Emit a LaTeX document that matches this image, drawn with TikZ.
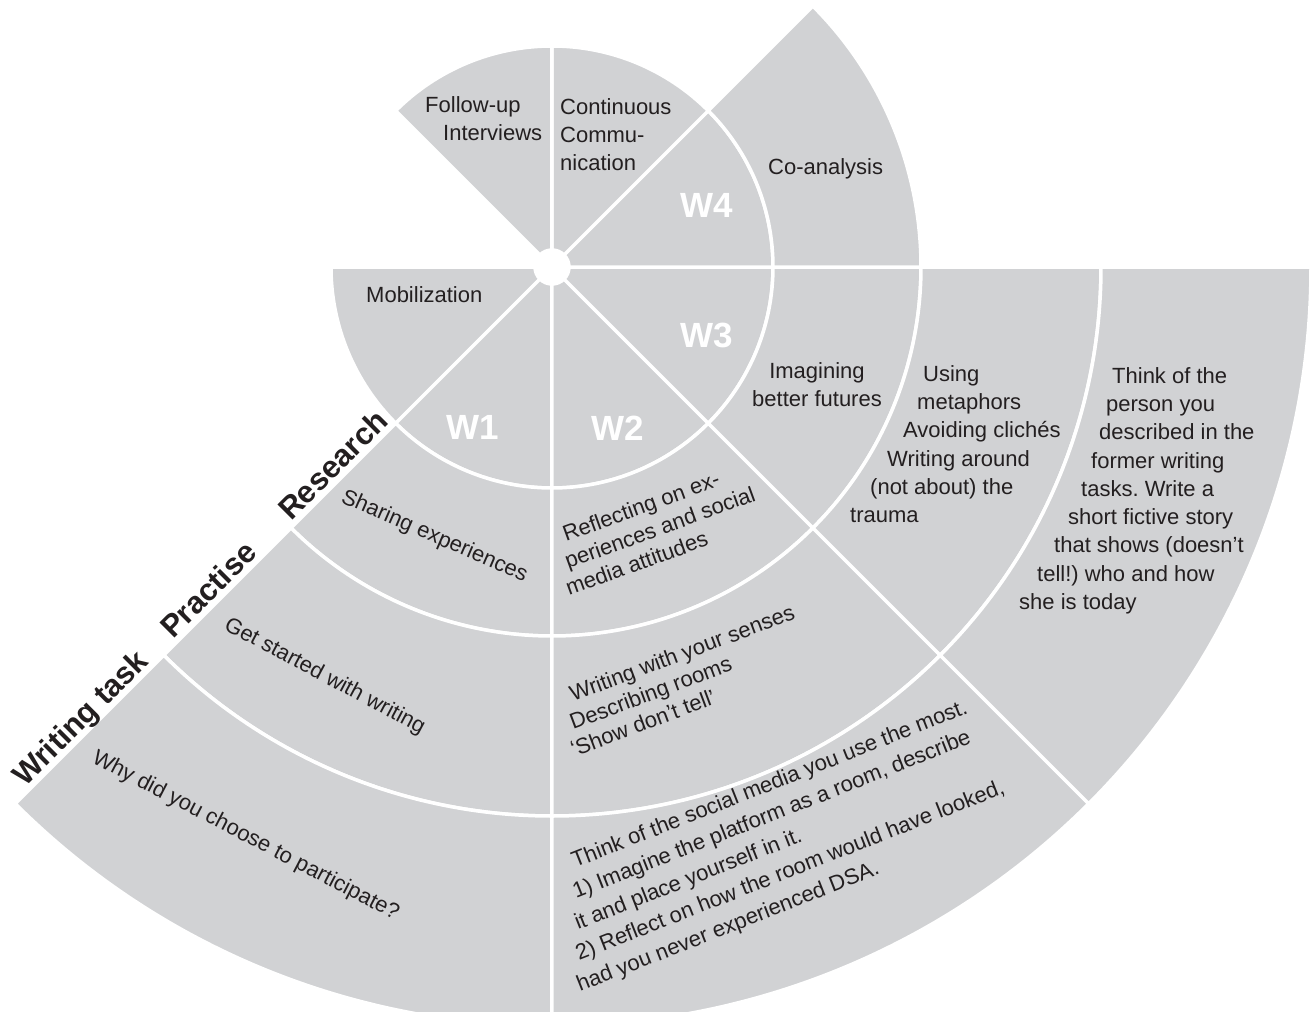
\documentclass[tikz,border=0pt]{standalone}
\usepackage{fontspec}
\setmainfont{Liberation Sans}
\definecolor{panel}{HTML}{D1D2D4}
\definecolor{ink}{HTML}{231F20}
\begin{document}
\frenchspacing
\begin{tikzpicture}[x=1pt,y=1pt,
    sec/.style={fill=panel,draw=white,line width=3.5pt},
    txt/.style={text=ink,inner sep=0pt,font=\fontsize{22}{28.3}\selectfont},
    wk/.style={text=white,inner sep=0pt,font=\fontsize{35}{40}\selectfont\bfseries},
    band/.style={text=ink,inner sep=0pt,anchor=base west,rotate=45,font=\fontsize{31}{36}\selectfont\bfseries}]
\useasboundingbox (-552,-745) rectangle (760,267);
% inner ring: workshops and the other activities
\draw[sec] (180:17) arc (180:225:17) -- (225:221) arc (225:180:221) -- cycle;
\draw[sec] (225:17) arc (225:270:17) -- (270:221) arc (270:225:221) -- cycle;
\draw[sec] (270:17) arc (270:315:17) -- (315:221) arc (315:270:221) -- cycle;
\draw[sec] (315:17) arc (315:360:17) -- (360:221) arc (360:315:221) -- cycle;
\draw[sec] (0:17) arc (0:45:17) -- (45:221) arc (45:0:221) -- cycle;
\draw[sec] (45:17) arc (45:90:17) -- (90:221) arc (90:45:221) -- cycle;
\draw[sec] (90:17) arc (90:135:17) -- (135:221) arc (135:90:221) -- cycle;
% research ring
\draw[sec] (225:221) arc (225:270:221) -- (270:369) arc (270:225:369) -- cycle;
\draw[sec] (270:221) arc (270:315:221) -- (315:369) arc (315:270:369) -- cycle;
\draw[sec] (315:221) arc (315:360:221) -- (360:369) arc (360:315:369) -- cycle;
\draw[sec] (0:221) arc (0:45:221) -- (45:369) arc (45:0:369) -- cycle;
% practise ring
\draw[sec] (225:369) arc (225:270:369) -- (270:549) arc (270:225:549) -- cycle;
\draw[sec] (270:369) arc (270:315:369) -- (315:549) arc (315:270:549) -- cycle;
\draw[sec] (315:369) arc (315:360:369) -- (360:549) arc (360:315:549) -- cycle;
% writing task ring
\draw[sec] (225:549) arc (225:270:549) -- (270:759) arc (270:225:759) -- cycle;
\draw[sec] (270:549) arc (270:315:549) -- (315:759) arc (315:270:759) -- cycle;
\draw[sec] (315:549) arc (315:360:549) -- (360:759) arc (360:315:759) -- cycle;

\node[wk] (w1) at (-79,-160) {W1};
\node[wk] (w2) at (66,-161) {W2};
\node[wk] (w3) at (155,-68) {W3};
\node[wk] (w4) at (155,62) {W4};

\node[txt,align=left,anchor=north west] (followup) at (-127,171) {Follow-up\\\hspace*{18pt}Interviews};
\node[txt,align=left,anchor=north west] (contcomm) at (8,169) {Continuous\\Commu-\\nication};
\node[txt,anchor=base west] (mobil) at (-186,-35) {Mobilization};
\node[txt,anchor=base west] (coanal) at (216,92) {Co-analysis};
\node[txt,align=center,anchor=north] (imagine) at (265,-95) {Imagining\\better futures};
\node[txt,align=left,anchor=north west] (metaph) at (298,-98)
  {\hspace*{73pt}Using\\\hspace*{67pt}metaphors\\\hspace*{53pt}Avoiding clichés\\
   \hspace*{37pt}Writing around\\\hspace*{20pt}(not about) the\\trauma};
\node[txt,align=left,anchor=north west] (person) at (467,-100)
  {\hspace*{93pt}Think of the\\\hspace*{87pt}person you\\\hspace*{80pt}described in the\\
   \hspace*{72pt}former writing\\\hspace*{62pt}tasks. Write a\\\hspace*{49pt}short fictive story\\
   \hspace*{35pt}that shows (doesn’t\\\hspace*{18pt}tell!) who and how\\she is today};

\node[txt,anchor=base west,rotate=-23.5] (sharing) at (-212,-235) {Sharing experiences};
\node[txt,anchor=base west,rotate=-28] (started) at (-329,-362) {Get started with writing};
\node[txt,anchor=base west,rotate=-27.5] (why) at (-461,-495) {Why did you choose to participate?};

\node[txt,anchor=base west,rotate=20] (refl1) at (14,-275) {Reflecting on ex-};
\node[txt,anchor=base west,rotate=20] (refl2) at (16,-302) {periences and social};
\node[txt,anchor=base west,rotate=20] (refl3) at (17,-329) {media attitudes};
\node[txt,anchor=base west,rotate=20.5] (sense1) at (21,-435) {Writing with your senses};
\node[txt,anchor=base west,rotate=20.5] (sense2) at (21,-463) {Describing rooms};
\node[txt,anchor=base west,rotate=20.5] (sense3) at (22,-490) {‘Show don’t tell’};
\node[txt,anchor=base west,rotate=21.5] (room1) at (23,-601) {Think of the social media you use the most.};
\node[txt,anchor=base west,rotate=21.5] (room2) at (24,-632) {1) Imagine the platform as a room, describe};
\node[txt,anchor=base west,rotate=21.5] (room3) at (26,-663) {it and place yourself in it.};
\node[txt,anchor=base west,rotate=21.5] (room4) at (27,-694) {2) Reflect on how the room would have looked,};
\node[txt,anchor=base west,rotate=21.5] (room5) at (28,-725) {had you never experienced DSA.};

\node[band] (research) at (-261,-255) {Research};
\node[band] (practise) at (-379,-373) {Practise};
\node[band] (wtask) at (-527,-521) {Writing task};
\end{tikzpicture}
\end{document}
